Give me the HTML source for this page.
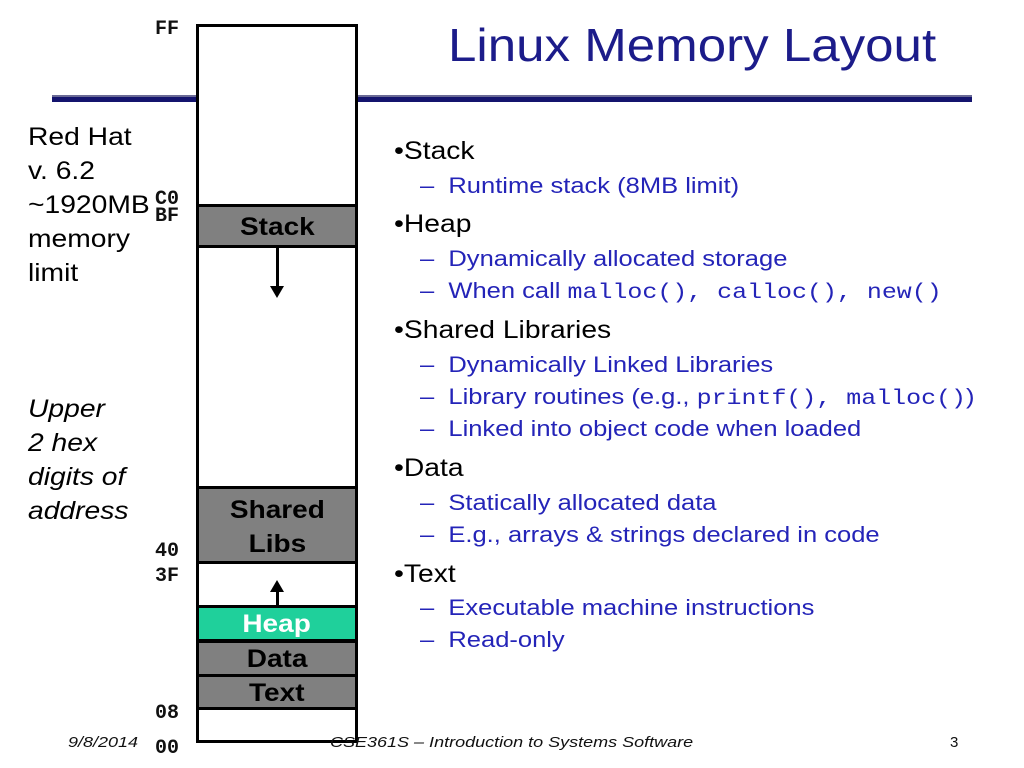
<!DOCTYPE html>
<html><head><style>
body{margin:0;width:1024px;height:768px;background:#fff;position:relative;overflow:hidden;font-family:"Liberation Sans",sans-serif}
.a{position:absolute;white-space:nowrap;transform-origin:0 0}
.m{font-family:"Liberation Mono",monospace;font-weight:bold;font-size:20px;color:#111}
.seg{position:absolute;left:196px;width:162px;box-sizing:border-box;border:3px solid #000;background:#808080;text-align:center;font-weight:bold;font-size:25px;color:#000}
.seg span{display:inline-block;transform:scaleX(1.12)}
.b{color:#000;font-size:25px;transform:scaleX(1.13)}
.s{color:#2424b8;font-size:22px;transform:scaleX(1.16)}
.c{font-family:"Liberation Mono",monospace;font-size:21.5px}
.f{font-size:15px;font-style:italic;color:#111;transform:scaleX(1.2)}
</style></head><body>
<div class="a" style="left:52px;top:95px;width:920px;height:2px;background:#6a6a96"></div>
<div class="a" style="left:52px;top:97px;width:920px;height:5px;background:#14146e"></div>
<div class="a" style="left:448px;top:18px;font-size:46px;color:#1c1c8a;transform:scaleX(1.11)">Linux Memory Layout</div>

<div class="a" style="left:196px;top:24px;width:162px;height:719px;box-sizing:border-box;border:3px solid #000;background:#fff"></div>
<div class="seg" style="top:204px;height:44px;line-height:40px"><span>Stack</span></div>
<div class="a" style="left:276px;top:248px;width:3px;height:40px;background:#000"></div>
<div class="a" style="left:270px;top:286px;border-left:7px solid transparent;border-right:7px solid transparent;border-top:12px solid #000"></div>
<div class="seg" style="top:486px;height:78px;line-height:34px;padding-top:4px"><span>Shared<br>Libs</span></div>
<div class="a" style="left:270px;top:580px;border-left:7px solid transparent;border-right:7px solid transparent;border-bottom:12px solid #000"></div>
<div class="a" style="left:276px;top:590px;width:3px;height:16px;background:#000"></div>
<div class="seg" style="top:605px;height:37px;line-height:33px;background:#1fd09b;color:#fff"><span>Heap</span></div>
<div class="seg" style="top:640px;height:37px;line-height:33px"><span>Data</span></div>
<div class="seg" style="top:674px;height:36px;line-height:32px"><span>Text</span></div>

<div class="a m" style="left:155px;top:18px">FF</div>
<div class="a m" style="left:155px;top:188px">C0</div>
<div class="a m" style="left:155px;top:205px">BF</div>
<div class="a m" style="left:155px;top:540px">40</div>
<div class="a m" style="left:155px;top:565px">3F</div>
<div class="a m" style="left:155px;top:702px">08</div>
<div class="a m" style="left:155px;top:737px">00</div>

<div class="a b" style="left:28px;top:120px;line-height:34px">Red Hat<br>v. 6.2<br>~1920MB<br>memory<br>limit</div>
<div class="a b" style="left:28px;top:392px;line-height:34px;font-style:italic">Upper<br>2 hex<br>digits of<br>address</div>

<div class="a b" style="left:394px;top:137px">•Stack</div>
<div class="a s" style="left:420px;top:173px">–&nbsp; Runtime stack (8MB limit)</div>
<div class="a b" style="left:394px;top:210px">•Heap</div>
<div class="a s" style="left:420px;top:246px">–&nbsp; Dynamically allocated storage</div>
<div class="a s" style="left:420px;top:278px">–&nbsp; When call <span class="c">malloc(), calloc(), new()</span></div>
<div class="a b" style="left:394px;top:316px">•Shared Libraries</div>
<div class="a s" style="left:420px;top:352px">–&nbsp; Dynamically Linked Libraries</div>
<div class="a s" style="left:420px;top:384px">–&nbsp; Library routines (e.g., <span class="c">printf(), malloc()</span>)</div>
<div class="a s" style="left:420px;top:416px">–&nbsp; Linked into object code when loaded</div>
<div class="a b" style="left:394px;top:454px">•Data</div>
<div class="a s" style="left:420px;top:490px">–&nbsp; Statically allocated data</div>
<div class="a s" style="left:420px;top:522px">–&nbsp; E.g., arrays &amp; strings declared in code</div>
<div class="a b" style="left:394px;top:560px">•Text</div>
<div class="a s" style="left:420px;top:595px">–&nbsp; Executable machine instructions</div>
<div class="a s" style="left:420px;top:627px">–&nbsp; Read-only</div>

<div class="a f" style="left:68px;top:734px">9/8/2014</div>
<div class="a f" style="left:330px;top:734px">CSE361S – Introduction to Systems Software</div>
<div class="a" style="left:950px;top:734px;font-size:15px;color:#111">3</div>
</body></html>
